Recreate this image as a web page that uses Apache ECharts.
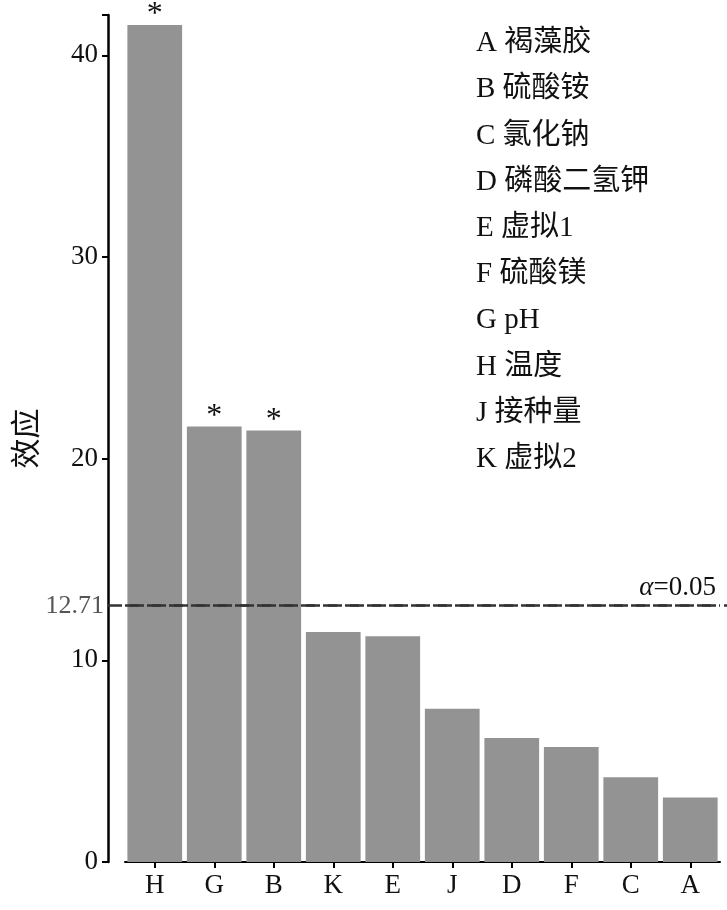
<!DOCTYPE html>
<html>
<head>
<meta charset="UTF-8">
<script src="https://cdn.jsdelivr.net/npm/echarts@6/dist/echarts.min.js"></script>
<style>
  body { margin: 0; background: #fff; }
  #chart { width: 727px; height: 910px; }
</style>
</head>
<body>
<div id="chart"></div>
<script>
// 效应值
const categories = ['H', 'G', 'B', 'K', 'E', 'J', 'D', 'F', 'C', 'A'];
const effects = [41.5, 21.6, 21.4, 11.4, 11.2, 7.6, 6.15, 5.7, 4.2, 3.2];
const significant = [true, true, true, false, false, false, false, false, false, false];
const threshold = 12.71;
const legendLines = ['A 褐藻胶', 'B 硫酸铵', 'C 氯化钠', 'D 磷酸二氢钾', 'E 虚拟1',
  'F 硫酸镁', 'G pH', 'H 温度', 'J 接种量', 'K 虚拟2'];

const serif = '"Liberation Serif", "Noto Sans CJK SC", serif';
const chart = echarts.init(document.getElementById('chart'));

chart.setOption({
  animation: false,
  grid: { left: 125, right: 7, top: 15, bottom: 48 },
  xAxis: {
    type: 'category',
    data: categories,
    axisLine: { lineStyle: { color: '#000', width: 2 } },
    axisTick: { show: true, alignWithLabel: true, length: 6, lineStyle: { color: '#000', width: 2 } },
    axisLabel: { color: '#111', fontFamily: serif, fontSize: 27, margin: 10 }
  },
  yAxis: {
    type: 'value',
    min: 0, max: 42, interval: 10,
    offset: 17,
    name: '效应',
    nameLocation: 'middle',
    nameGap: 68,
    nameTextStyle: { color: '#111', fontFamily: '"Noto Sans CJK SC"', fontSize: 30 },
    axisLine: { show: true, lineStyle: { color: '#000', width: 2.5 } },
    axisTick: { show: true, length: 6, lineStyle: { color: '#000', width: 2 } },
    splitLine: { show: false },
    axisLabel: {
      color: '#111', fontFamily: serif, fontSize: 27, margin: 10,
      formatter: v => (v % 10 === 0 ? String(v) : '')
    }
  },
  series: [{
    type: 'bar',
    data: effects,
    barWidth: '92%',
    itemStyle: { color: '#939393' },
    label: {
      show: true, position: 'top', distance: -6,
      color: '#111', fontFamily: serif, fontSize: 32,
      formatter: p => (significant[p.dataIndex] ? '*' : '')
    },
    markLine: {
      symbol: 'none',
      silent: true,
      lineStyle: { color: '#333', type: [14, 8], width: 2.5 },
      data: [
        [{ yAxis: threshold, x: 108, label: { position: 'start', formatter: '12.71', color: '#555', fontFamily: serif, fontSize: 26, distance: 4 } },
         { yAxis: threshold, x: 727 }],
        { yAxis: threshold, label: {
            position: 'insideEndTop', distance: 4,
            formatter: '{a|α}{b|=0.05}',
            rich: {
              a: { fontStyle: 'italic', fontFamily: serif, fontSize: 27, color: '#111' },
              b: { fontFamily: serif, fontSize: 27, color: '#111' }
            }
          } }
      ]
    }
  }],
  graphic: legendLines.map((t, i) => ({
    type: 'text',
    left: 476,
    top: 29 + i * 46.2,
    style: {
      text: t,
      fill: '#111',
      font: '29px "Liberation Serif", "Noto Sans CJK SC", serif'
    }
  }))
});
</script>
</body>
</html>
